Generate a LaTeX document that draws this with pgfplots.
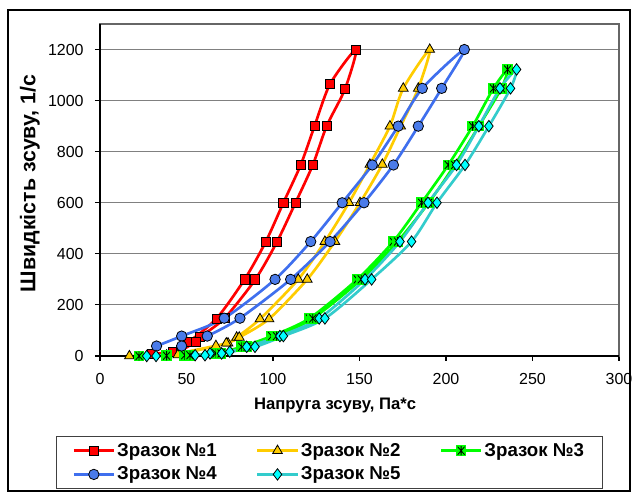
\documentclass[border=0pt]{standalone}
\usepackage{pgfplots}
\pgfplotsset{compat=1.18}
\usepackage{pgfplotstable}
\usepackage{fontspec}
\setmainfont{Liberation Sans}

\definecolor{sred}{HTML}{FF0000}
\definecolor{syel}{HTML}{FFCC00}
\definecolor{sgrn}{HTML}{00FF00}
\definecolor{sblu}{HTML}{3F6FEE}
\definecolor{sblufill}{HTML}{4A7BEA}
\definecolor{scyn}{HTML}{33CCCC}
\definecolor{scynfill}{HTML}{00FFFF}

% green square with a black star, like the Excel marker
\pgfdeclareplotmark{gstar}{%
  \pgfpathrectangle{\pgfqpoint{-\pgfplotmarksize}{-\pgfplotmarksize}}{\pgfqpoint{2\pgfplotmarksize}{2\pgfplotmarksize}}%
  \pgfsetfillcolor{sgrn}\pgfusepath{fill}%
  \pgfsetstrokecolor{black}\pgfsetlinewidth{0.6pt}%
  \pgfpathmoveto{\pgfqpoint{-0.65\pgfplotmarksize}{-0.75\pgfplotmarksize}}\pgfpathlineto{\pgfqpoint{0.65\pgfplotmarksize}{0.75\pgfplotmarksize}}%
  \pgfpathmoveto{\pgfqpoint{-0.65\pgfplotmarksize}{0.75\pgfplotmarksize}}\pgfpathlineto{\pgfqpoint{0.65\pgfplotmarksize}{-0.75\pgfplotmarksize}}%
  \pgfpathmoveto{\pgfqpoint{0pt}{-0.85\pgfplotmarksize}}\pgfpathlineto{\pgfqpoint{0pt}{0.85\pgfplotmarksize}}%
  \pgfusepath{stroke}}

% sample 1
\pgfplotstableread{
x y
30 10
42.4 17
51.4 56
67.4 147
83.6 300
95.8 447
106 600
116 748
124 900
133 1065
148 1200
141.6 1045
131 900
123 748
113 600
102.3 447
89.8 300
72 148
58 75
55.5 56
47 22
}\sone

% sample 2
\pgfplotstableread{
x y
17 0
38.5 3
67 40
74 50
79 73
92.5 145
114.6 300
130 448
143.9 600
156 750
167.6 900
175.3 1048
190.6 1200
184 1048
173.8 900
163.2 750
150.3 600
135.8 448
119.8 300
97.7 145
80.5 73
73 50
45 4
}\stwo

% sample 3
\pgfplotstableread{
x y
22.6 0
49 3
67 10
81.9 36
99.2 78
121 147
148.7 300
169.5 448
185.9 600
201.3 748
215.4 900
227.4 1048
235.6 1122
232 1048
219 900
205 748
190 600
172 448
151 300
123 147
102 78
85 36
70 10
52 3
38.5 1
}\sthree

% sample 4
\pgfplotstableread{
x y
32.7 39
47.2 78
71.8 148
101.2 300
121.8 448
140 600
157.4 748
172.4 900
186.3 1048
210.6 1200
197.5 1048
184 900
169.6 748
152.6 600
133 448
110.2 300
80.9 148
62 78
47.2 39
}\sfour

% sample 5
\pgfplotstableread{
x y
27 0
55 3
63.6 10
75 17
84.8 36
104 78
126.7 147
153.2 300
173.4 448
189.6 600
206.1 748
219 900
231.2 1048
240.8 1122
237.3 1048
224.8 900
211 748
194.8 600
180.1 448
157 300
130 147
106 78
89.6 36
70.3 10
60.7 3
32.4 0
}\sfive

\begin{document}
\begin{tikzpicture}
\useasboundingbox (-75pt,-104.25pt) rectangle (399.75pt,267pt);
\draw[black, line width=0.8pt] (-69pt,-101.25pt) rectangle (397.5pt,259.5pt);
\begin{axis}[
  at={(0pt,0pt)}, anchor=south west,
  scale only axis, width=389.25pt, height=249pt,
  xmin=0, xmax=300, ymin=0, ymax=1300,
  xtick={0,50,...,300}, ytick={0,200,...,1200},
  ymajorgrids, grid style={gray, line width=0.8pt},
  axis line style={gray!80!black, line width=0.8pt},
  tick align=outside, major tick length=3.75pt,
  tick style={black, line width=0.8pt},
  xtick pos=bottom, ytick pos=left,
  ticklabel style={font=\fontsize{12}{14}\selectfont},
  xticklabel style={yshift=-6pt},
  yticklabel style={xshift=-5pt},
  /pgf/number format/assume math mode=true,
  /pgf/number format/1000 sep={},
  xlabel={Напруга зсуву, Па*с},
  ylabel={Швидкість зсуву, 1/с},
  xlabel style={at={(axis description cs:0.453,-0.148)}, anchor=center,
    font=\fontsize{12.5}{14}\selectfont\bfseries},
  ylabel style={at={(axis description cs:-0.135,0.52)}, anchor=center,
    font=\fontsize{16}{18}\selectfont\bfseries},
  clip=false,
  legend columns=3,
  legend cell align=left,
  legend style={at={(axis description cs:-0.0848,-0.241)}, anchor=north west,
    draw=black!75, line width=0.8pt, font=\fontsize{14}{16}\selectfont\bfseries,
    inner xsep=12pt, inner ysep=3pt, row sep=2.5pt,
    nodes={inner xsep=1.5pt, inner ysep=2pt},
    /tikz/every even column/.append style={column sep=28pt}},
  legend image code/.code={\draw[mark repeat=2,mark phase=2,#1] plot coordinates {(0pt,0pt) (15pt,0pt) (30pt,0pt)};},
  every axis plot/.append style={line width=2pt, smooth, tension=0.45},
]
\addplot[sred, mark=square*, mark size=3.4pt, mark options={fill=sred, draw=black, line width=0.6pt}] table {\sone};
\addlegendentry{Зразок №1}
\addplot[syel, mark=triangle*, mark size=4.2pt, mark options={fill=syel, draw=black, line width=0.6pt}] table {\stwo};
\addlegendentry{Зразок №2}
\addplot[sgrn, mark=gstar, mark size=4pt] table {\sthree};
\addlegendentry{Зразок №3}
\addplot[sblu, mark=*, mark size=3.9pt, mark options={fill=sblufill, draw=black, line width=0.6pt}] table {\sfour};
\addlegendentry{Зразок №4}
\addplot[scyn, mark=diamond*, mark size=4.3pt, mark options={fill=scynfill, draw=black, line width=0.6pt}] table {\sfive};
\addlegendentry{Зразок №5}
\draw[black, line width=0.9pt] (axis cs:0,1300) -- (axis cs:0,0) -- (axis cs:300,0);
\end{axis}
\end{tikzpicture}
\end{document}
